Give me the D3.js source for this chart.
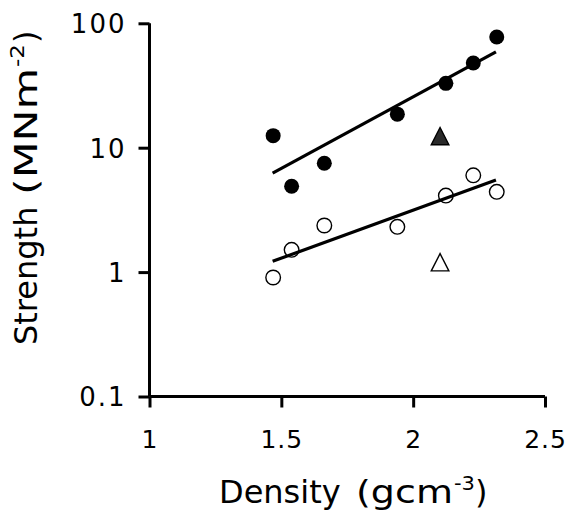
<!DOCTYPE html>
<html>
<head>
<meta charset="utf-8">
<script src="https://cdn.jsdelivr.net/npm/d3@7/dist/d3.min.js"></script>
<style>
  html, body { margin: 0; padding: 0; background: #fff; }
  svg { display: block; }
  text { font-family: "DejaVu Sans", Verdana, sans-serif; fill: #000; }
</style>
</head>
<body>
<svg id="chart" width="567" height="516"></svg>
<script>
// Density of each sample (g cm^-3)
const density = [1.469, 1.539, 1.663, 1.940, 2.124, 2.228, 2.317];
// Strength of the two sample groups (MN m^-2)
const strengthFilled = [12.5, 4.9, 7.5, 18.6, 32.9, 48, 77.6];
const strengthOpen = [0.905, 1.51, 2.37, 2.31, 4.12, 6.0, 4.42];
// Single reference samples drawn as triangles
const triDensity = [2.102];
const triFilled = [12.4];
const triOpen = [1.2];
// Fitted trend lines (endpoints)
const fitDensity = [1.467, 2.314];
const fitFilled = [6.24, 59];
const fitOpen = [1.22, 5.5];
// Axis ticks
const xTicks = [1, 1.5, 2, 2.5];
const yTicks = [0.1, 1, 10, 100];
const yTickLabels = ["0.1", "1", "10", "100"];

const svg = d3.select("#chart");

const x = d3.scaleLinear().domain([1, 2.5]).range([149.5, 545]);
const y = d3.scaleLog().domain([0.1, 100]).range([396.5, 23.3]);

// Axes
const xAxis = d3.axisBottom(x).tickValues(xTicks).tickFormat(d3.format("")).tickSize(11).tickPadding(23);
const yAxis = d3.axisLeft(y).tickValues(yTicks).tickFormat((d, i) => yTickLabels[i]).tickSize(11).tickPadding(12);

const gx = svg.append("g").attr("transform", `translate(0,${y(0.1)})`).call(xAxis);
const gy = svg.append("g").attr("transform", `translate(${x(1)},0)`).call(yAxis);

[gx, gy].forEach(g => {
  g.select(".domain").attr("stroke", "#000").attr("stroke-width", 3);
  g.selectAll(".tick line").attr("stroke", "#000").attr("stroke-width", 3);
  g.selectAll(".tick text").attr("fill", "#000");
});
gx.select(".domain").attr("d", `M${x(1)},0H${x(2.5)}`);
gy.select(".domain").attr("d", `M0,${y(100)}V${y(0.1)}`);
gy.selectAll(".tick text").attr("dy", "0.36em").style("font-size", "26px").style("letter-spacing", "2px");
gx.selectAll(".tick text").attr("dy", "0.71em").style("font-size", "25px").style("letter-spacing", "1px");

// Fit lines
const line = d3.line().x(d => x(d[0])).y(d => y(d[1]));
[fitFilled, fitOpen].forEach(vals => {
  svg.append("path")
    .datum(fitDensity.map((d, i) => [d, vals[i]]))
    .attr("d", line)
    .attr("fill", "none")
    .attr("stroke", "#000")
    .attr("stroke-width", 3.2);
});

// Circles
svg.append("g").selectAll("circle")
  .data(density.map((d, i) => [d, strengthOpen[i]]))
  .join("circle")
  .attr("cx", d => x(d[0])).attr("cy", d => y(d[1])).attr("r", 7.3)
  .attr("fill", "#fff").attr("fill-opacity", 0).attr("stroke", "#000").attr("stroke-width", 1.4);

svg.append("g").selectAll("circle")
  .data(density.map((d, i) => [d, strengthFilled[i]]))
  .join("circle")
  .attr("cx", d => x(d[0])).attr("cy", d => y(d[1])).attr("r", 7.5)
  .attr("fill", "#000");

// Triangles
const triangle = {
  draw(ctx, size) {
    const w = 8.8, h = 8.6;
    ctx.moveTo(0, -h);
    ctx.lineTo(w, h);
    ctx.lineTo(-w, h);
    ctx.closePath();
  }
};
const sym = d3.symbol().type(triangle)();
svg.append("g").selectAll("path")
  .data(triDensity.map((d, i) => [d, triFilled[i]]))
  .join("path")
  .attr("d", sym)
  .attr("transform", d => `translate(${x(d[0])},${y(d[1])})`)
  .attr("fill", "#2a2a2a").attr("stroke", "#000").attr("stroke-width", 1.4);
svg.append("g").selectAll("path")
  .data(triDensity.map((d, i) => [d, triOpen[i]]))
  .join("path")
  .attr("d", sym)
  .attr("transform", d => `translate(${x(d[0])},${y(d[1])})`)
  .attr("fill", "none").attr("stroke", "#000").attr("stroke-width", 1.4);

// Axis titles: each piece is laid out along the baseline from a start offset,
// optionally widened to a given span; superscripts are raised pieces.
function titlePieces(g, pieces) {
  pieces.forEach(p => {
    const t = g.append("text").attr("x", 0).attr("y", 0).style("font-size", p.size + "px").text(p.text);
    const w = t.node().getComputedTextLength();
    const sx = p.span ? p.span / w : 1;
    t.attr("transform", `translate(${p.at},${-(p.raise || 0)}) scale(${sx},1)`);
  });
}
const gxt = svg.append("g").attr("transform", "translate(0,503)");
titlePieces(gxt, [
  { text: "Density", size: 32, at: 219 },
  { text: "(gcm", size: 32, at: 356, span: 97 },
  { text: "-3", size: 19, at: 454, span: 21, raise: 13 },
  { text: ")", size: 32, at: 475 }
]);
const gyt = svg.append("g").attr("transform", "translate(37,0) rotate(-90)");
titlePieces(gyt, [
  { text: "Strength", size: 32, at: -345 },
  { text: "(MNm", size: 32, at: -195, span: 127 },
  { text: "-2", size: 19, at: -67, span: 23, raise: 13 },
  { text: ")", size: 32, at: -43 }
]);
</script>
</body>
</html>
